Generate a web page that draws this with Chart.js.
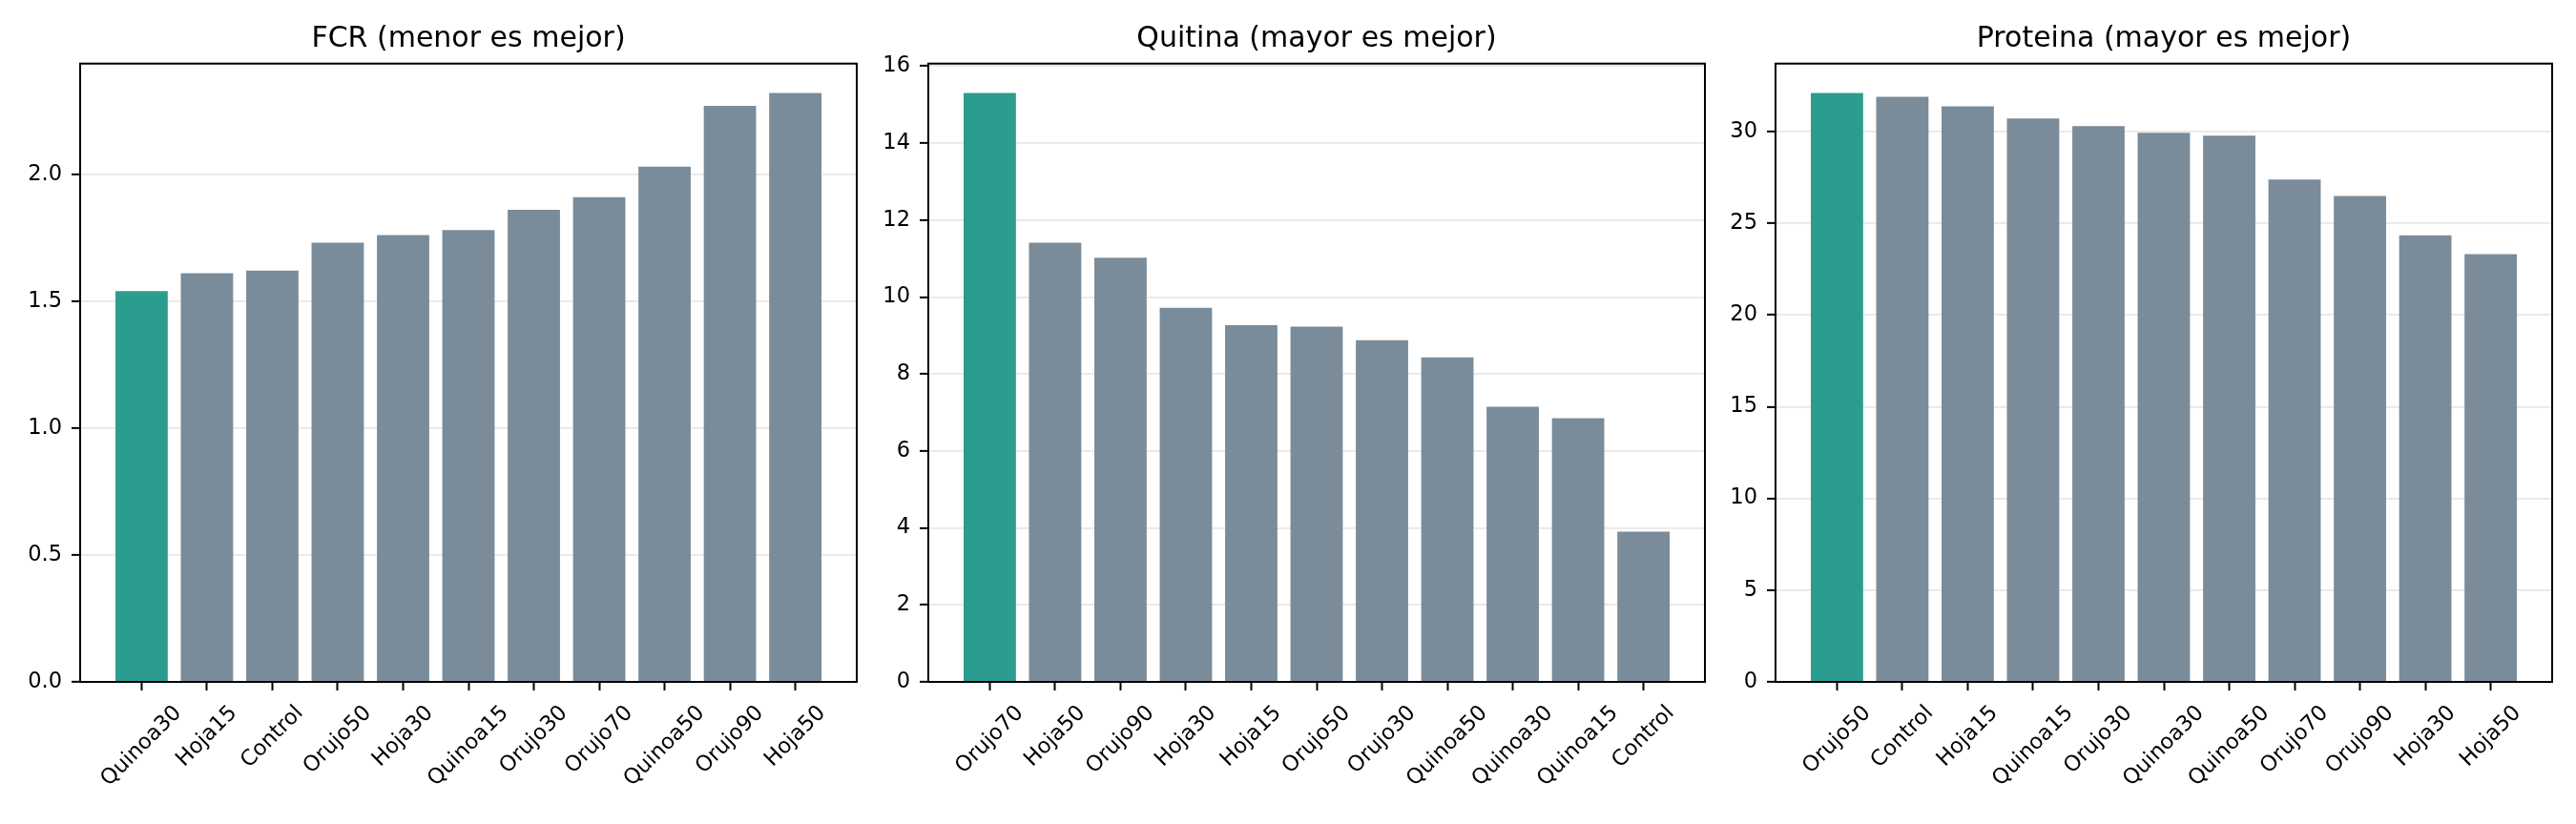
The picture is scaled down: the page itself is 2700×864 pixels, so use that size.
<!DOCTYPE html>
<html>
<head>
<meta charset="utf-8">
<script src="https://cdn.jsdelivr.net/npm/chart.js@4.4.1/dist/chart.umd.min.js"></script>
<style>
  html, body { margin: 0; padding: 0; background: #fff; }
  #wrap { position: relative; width: 2700px; height: 864px; }
  canvas { position: absolute; top: 0; }
</style>
</head>
<body>
<div id="wrap">
  <canvas id="fcr" width="900" height="864" style="left:0"></canvas>
  <canvas id="quitina" width="900" height="864" style="left:900px"></canvas>
  <canvas id="proteina" width="900" height="864" style="left:1800px"></canvas>
</div>
<script>
// valores
const fcrLabels = ['Quinoa30', 'Hoja15', 'Control', 'Orujo50', 'Hoja30', 'Quinoa15', 'Orujo30', 'Orujo70', 'Quinoa50', 'Orujo90', 'Hoja50'];
const fcrValues = [1.54, 1.61, 1.62, 1.73, 1.76, 1.78, 1.86, 1.91, 2.03, 2.27, 2.32];
const fcrTicks = [0, 0.5, 1.0, 1.5, 2.0];

const quitinaLabels = ['Orujo70', 'Hoja50', 'Orujo90', 'Hoja30', 'Hoja15', 'Orujo50', 'Orujo30', 'Quinoa50', 'Quinoa30', 'Quinoa15', 'Control'];
const quitinaValues = [15.3, 11.41, 11.02, 9.72, 9.27, 9.23, 8.88, 8.43, 7.15, 6.85, 3.9];
const quitinaTicks = [0, 2, 4, 6, 8, 10, 12, 14, 16];

const proteinaLabels = ['Orujo50', 'Control', 'Hoja15', 'Quinoa15', 'Orujo30', 'Quinoa30', 'Quinoa50', 'Orujo70', 'Orujo90', 'Hoja30', 'Hoja50'];
const proteinaValues = [32.1, 31.9, 31.37, 30.71, 30.3, 29.93, 29.78, 27.38, 26.49, 24.35, 23.32];
const proteinaTicks = [0, 5, 10, 15, 20, 25, 30];

const BEST = '#2a9d8f';
const REST = '#7a8b99';
const FONT = '"DejaVu Sans", sans-serif';
const TICK_PX = 22.5;

// marco negro alrededor del area del grafico (los 4 lados)
const framePlugin = {
    id: 'frame',
    afterDraw(chart) {
        const { ctx, chartArea: a } = chart;
        ctx.save();
        ctx.strokeStyle = '#000';
        ctx.lineWidth = 2;
        ctx.strokeRect(a.left, a.top, a.right - a.left, a.bottom - a.top);
        ctx.restore();
    }
};

// etiquetas del eje x rotadas 45 grados, centradas en el tick (como matplotlib)
const xLabelPlugin = {
    id: 'xLabels',
    afterDraw(chart, args, opts) {
        const { ctx } = chart;
        const x = chart.scales.x;
        const h = TICK_PX * 1.15;
        const top = x.top + 20;
        ctx.save();
        ctx.font = TICK_PX + 'px ' + FONT;
        ctx.fillStyle = '#000';
        ctx.textAlign = 'center';
        ctx.textBaseline = 'middle';
        opts.labels.forEach((lab, i) => {
            const w = ctx.measureText(lab).width;
            const side = (w + h) * Math.SQRT1_2;
            ctx.save();
            ctx.translate(x.getPixelForValue(i), top + side / 2);
            ctx.rotate(-Math.PI / 4);
            ctx.fillText(lab, 0, 0);
            ctx.restore();
        });
        ctx.restore();
    }
};

function makeChart(id, title, labels, values, ticks, decimals, yWidth, rightPad) {
    const n = labels.length;
    const margin = 0.05 * (n - 1 + 0.8);
    return new Chart(document.getElementById(id), {
        type: 'bar',
        data: {
            datasets: [{
                data: values.map((v, i) => ({ x: i, y: v })),
                backgroundColor: values.map((v, i) => i === 0 ? BEST : REST),
                borderWidth: 0,
                categoryPercentage: 1,
                barPercentage: 0.8
            }]
        },
        options: {
            responsive: false,
            animation: false,
            devicePixelRatio: 1,
            layout: { padding: { left: 0, right: rightPad, top: 0, bottom: 0 } },
            plugins: {
                legend: { display: false },
                tooltip: { enabled: false },
                title: {
                    display: true,
                    text: title,
                    fullSize: false,
                    color: '#000',
                    font: { family: FONT, size: 30, weight: 'normal', lineHeight: 1.2 },
                    padding: { top: 23.5, bottom: 7.2 }
                },
                xLabels: { labels: labels }
            },
            scales: {
                x: {
                    type: 'linear',
                    offset: false,
                    min: -0.4 - margin,
                    max: n - 1 + 0.4 + margin,
                    afterBuildTicks: s => { s.ticks = labels.map((l, i) => ({ value: i })); },
                    afterFit: s => { s.height = 864 - 715; },
                    ticks: { display: false },
                    border: { display: false },
                    grid: {
                        offset: false,
                        drawOnChartArea: false,
                        drawTicks: true,
                        tickLength: 9,
                        tickColor: '#000',
                        tickWidth: 2
                    }
                },
                y: {
                    min: 0,
                    max: Math.max(...values) * 1.05,
                    z: 1,
                    afterBuildTicks: s => { s.ticks = ticks.map(v => ({ value: v })); },
                    afterFit: s => { s.width = yWidth; },
                    border: { display: false },
                    grid: {
                        color: 'rgba(176,176,176,0.3)',
                        lineWidth: 1.7,
                        tickLength: 9,
                        tickColor: '#000',
                        tickWidth: 2
                    },
                    ticks: {
                        autoSkip: false,
                        padding: 10,
                        color: '#000',
                        font: { family: FONT, size: TICK_PX },
                        callback: v => Number(v).toFixed(decimals)
                    }
                }
            }
        },
        plugins: [framePlugin, xLabelPlugin]
    });
}

makeChart('fcr', 'FCR (menor es mejor)', fcrLabels, fcrValues, fcrTicks, 1, 84, 2);
makeChart('quitina', 'Quitina (mayor es mejor)', quitinaLabels, quitinaValues, quitinaTicks, 0, 73, 13);
makeChart('proteina', 'Proteina (mayor es mejor)', proteinaLabels, proteinaValues, proteinaTicks, 0, 61, 25);
</script>
</body>
</html>
